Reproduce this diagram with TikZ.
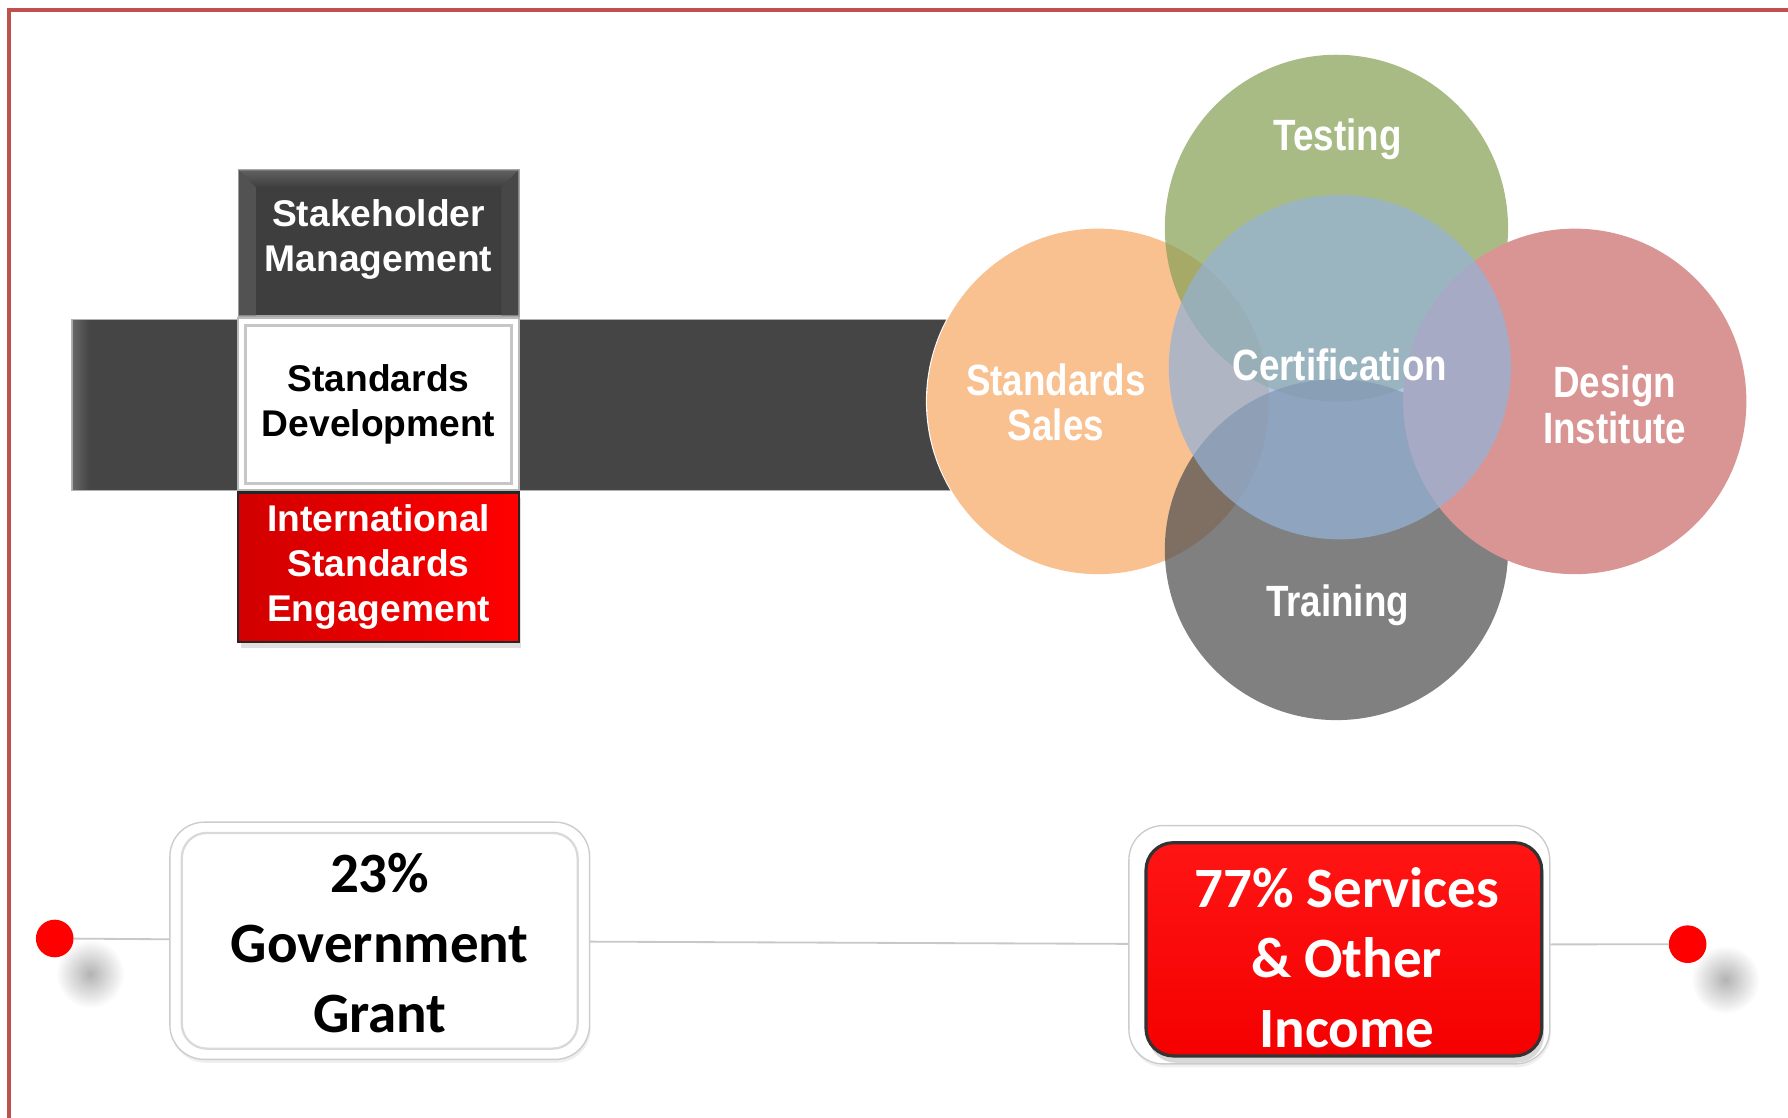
\documentclass[tikz,border=0pt]{standalone}
\usepackage{fontspec}
\setmainfont{Liberation Sans}
\newfontfamily\narrowfont{Liberation Sans}[UprightFont=* Bold, FakeStretch=0.84]
\newfontfamily\calfont{Carlito}
\usetikzlibrary{calc,shadows}

\definecolor{frameC}{HTML}{C0504D}
\definecolor{barC}{HTML}{454545}
\definecolor{darkboxC}{HTML}{3E3E3E}
\definecolor{salesC}{HTML}{F7A968}
\definecolor{designC}{HTML}{D99594}
\definecolor{testC}{HTML}{89A359}
\definecolor{trainC}{HTML}{515151}
\definecolor{certC}{HTML}{95B2D6}
\definecolor{lineC}{HTML}{C8C8C8}

\tikzset{
  unitbox/.style={rectangle, inner sep=0pt, align=center,
    font=\fontsize{16.3pt}{19.8pt}\selectfont\bfseries},
  darkbox/.style={unitbox, fill=darkboxC, draw=gray!70, line width=0.6pt, text=white},
  whitebox/.style={unitbox, fill=white, draw=gray!55, line width=0.8pt, text=black},
  redbox/.style={unitbox, left color=red!82!black, right color=red, draw=black!85,
    line width=1pt, text=white,
    drop shadow={opacity=0.25, shadow xshift=1pt, shadow yshift=-2.5pt}},
  circlabel/.style={align=center, text=white, inner sep=0pt,
    font=\fontsize{19.2pt}{20pt}\narrowfont},
  bubble/.style={fill opacity=0.73},
  bigtext/.style={align=center, inner sep=0pt,
    font=\fontsize{25pt}{30.8pt}\calfont\bfseries},
  panel/.style={rectangle, rounded corners=15pt, fill=white, draw=gray!40,
    line width=0.6pt, inner sep=0pt},
  reddot/.style={circle, fill=red, inner sep=0pt, minimum size=16.5pt},
  dotshadow/.style={inner color=black!30, outer color=white},
}

\begin{document}
\begin{tikzpicture}[x=0.5pt,y=-0.5pt]
\useasboundingbox (0,0) rectangle (1568,980);
\fill[white] (0,0) rectangle (1568,980);

% page frame
\draw[frameC, line width=1.6pt] (8,980) -- (8,9) -- (1568,9);

% horizontal dark bar
\node[rectangle, fill=barC, draw=gray!60, line width=0.6pt,
      minimum width=386pt, minimum height=75pt, inner sep=0pt] (bar) at (449,355) {};
\shade[left color=black!60, right color=barC] (64,281) rectangle (78,429);

% stacked function boxes
\node[darkbox, minimum width=123pt, minimum height=64pt] (stake) at (332,213) {};
% bevelled edges of the dark box
\shade[top color=gray!75!black, bottom color=darkboxC]
  ($(stake.north west)+(1,1)$) -- ($(stake.north east)+(-1,1)$)
  -- ($(stake.north east)+(-16,16)$) -- ($(stake.north west)+(16,16)$) -- cycle;
\fill[black!68]
  ($(stake.north west)+(1,1)$) -- ($(stake.north west)+(16,16)$)
  -- ($(stake.south west)+(16,-1)$) -- ($(stake.south west)+(1,-1)$) -- cycle;
\fill[black!72]
  ($(stake.north east)+(-1,1)$) -- ($(stake.north east)+(-16,16)$)
  -- ($(stake.south east)+(-16,-1)$) -- ($(stake.south east)+(-1,-1)$) -- cycle;
\node[unitbox, text=white] (staketext) at (332,210) {Stakeholder\\Management};

\node[whitebox, minimum width=123pt, minimum height=75.5pt] (sdev) at (332,354.5)
  {Standards\\Development};
\draw[gray!45, line width=1.2pt]
  ($(sdev.north west)+(7,7)$) rectangle ($(sdev.south east)+(-7,-7)$);

\node[redbox, minimum width=123pt, minimum height=65.5pt] (intl) at (332,497.5)
  {International\\Standards\\Engagement};

% service bubbles: opaque white base, then translucent fills
\foreach \cx/\cy in {963/352, 1381/352, 1172/200, 1172/482, 1175/322}
  \fill[white] (\cx,\cy) ellipse [x radius=151, y radius=152];
\fill[salesC, bubble] (963,352) ellipse [x radius=150, y radius=151.5];
\fill[testC, bubble] (1172,200) ellipse [x radius=150.5, y radius=152];
\fill[trainC, bubble] (1172,482) ellipse [x radius=150.5, y radius=149.5];
\fill[designC] (1381,352) ellipse [x radius=150.5, y radius=151.5];
\fill[certC, bubble] (1175,322) ellipse [x radius=150, y radius=151];

\node[circlabel] (testing) at (1173,122) {Testing};
\node[circlabel] (cert) at (1175,320) {Certification};
\node[circlabel] (sales) at (926,353) {Standards\\Sales};
\node[circlabel] (design) at (1416,355) {Design\\Institute};
\node[circlabel] (training) at (1173,531) {Training};

% funding timeline
\shade[dotshadow] (79,854) circle [radius=30];
\shade[dotshadow] (1513,859) circle [radius=30];

\node[panel, minimum width=184pt, minimum height=104pt,
      drop shadow={opacity=0.12, shadow xshift=0.5pt, shadow yshift=-1.5pt}] (grant) at (333,825) {};
\node[panel, minimum width=184.5pt, minimum height=104.5pt,
      drop shadow={opacity=0.12, shadow xshift=0.5pt, shadow yshift=-1.5pt}] (serv) at (1174.5,828.5) {};

\node[reddot] (ldot) at (48,823) {};
\node[reddot] (rdot) at (1480,828) {};

\draw[lineC, line width=0.8pt] (ldot) -- (grant);
\draw[lineC, line width=0.8pt] (grant) -- (serv);
\draw[lineC, line width=0.8pt] (serv) -- (rdot);

\draw[gray!30, line width=1pt, rounded corners=11pt]
  ($(grant.north west)+(11,10)$) rectangle ($(grant.south east)+(-11,-10)$);
\node[bigtext, text=black] (granttext) at (333,827) {23\%\\Government\\Grant};

\node[rectangle, rounded corners=12pt, minimum width=173.5pt, minimum height=93.5pt,
      top color=red!92!white, bottom color=red!96!black, draw=black!80, line width=1.4pt,
      drop shadow={opacity=0.3, shadow xshift=1pt, shadow yshift=-3pt}] (servbox) at (1178.5,832.5) {};
\node[bigtext, text=white] (servtext) at (1181,840) {77\% Services\\\& Other\\Income};
\end{tikzpicture}
\end{document}
